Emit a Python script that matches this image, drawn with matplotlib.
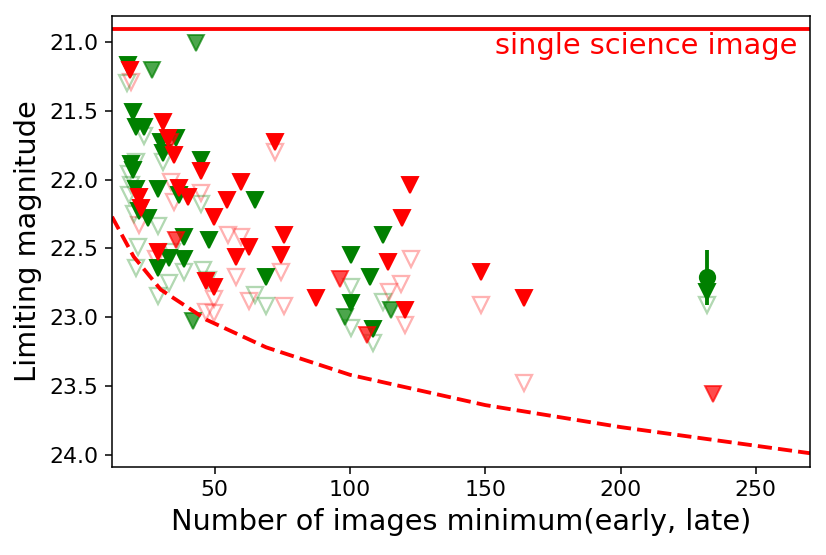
import matplotlib
matplotlib.use("Agg")
import matplotlib.pyplot as plt

# filled red triangles (solid)
red_x = [18.8, 30.9, 32.7, 34.9, 44.9, 36.8, 40.1, 22.1, 22.8, 49.6, 54.4, 59.6, 72.4,
         75.4, 62.5, 57.7, 74.6, 29.0, 46.7, 49.6, 122.1, 119.1, 114.0, 120.2, 87.5, 148.3, 164.2]
red_y = [21.20, 21.58, 21.70, 21.82, 21.94, 22.06, 22.13, 22.13, 22.21, 22.27, 22.15, 22.02, 21.73,
         22.40, 22.49, 22.56, 22.55, 22.53, 22.74, 22.78, 22.04, 22.28, 22.60, 22.95, 22.86, 22.67, 22.86]
# filled red triangles (faded)
red2_x = [33.5, 35.7, 96.3, 106.3, 234.0]
red2_y = [21.73, 22.44, 22.72, 23.13, 23.56]

# filled green triangles (solid)
green_x = [18.0, 19.9, 21.0, 23.9, 30.1, 35.7, 30.9, 44.9, 19.1, 19.9, 21.0, 29.0, 36.8, 22.1,
           25.4, 38.6, 47.8, 33.1, 38.6, 29.0, 64.7, 68.8, 100.4, 112.1, 107.4, 100.4, 108.5, 232.0]
green_y = [21.17, 21.51, 21.62, 21.62, 21.73, 21.70, 21.81, 21.86, 21.89, 21.93, 22.07, 22.07, 22.11, 22.23,
           22.28, 22.42, 22.44, 22.57, 22.58, 22.64, 22.15, 22.71, 22.55, 22.40, 22.71, 22.90, 23.09, 22.82]
# filled green triangles (faded)
green2_x = [43.0, 26.8, 41.9, 98.2, 115.1]
green2_y = [21.01, 21.20, 23.03, 23.00, 22.95]

# open red triangles
pink_x = [19.1, 33.8, 34.9, 44.9, 22.1, 54.8, 59.6, 28.3, 57.7, 74.6, 62.5, 75.7, 49.6, 46.7, 49.6,
          72.4, 122.4, 118.8, 114.3, 120.2, 148.3, 164.2]
pink_y = [21.29, 22.02, 22.16, 22.10, 22.33, 22.40, 22.42, 22.58, 22.71, 22.67, 22.88, 22.92, 22.87, 22.96, 22.97,
          21.80, 22.58, 22.76, 22.82, 23.06, 22.91, 23.48]

# open green triangles
lgreen_x = [17.6, 23.9, 30.9, 21.0, 18.4, 19.1, 18.4, 44.9, 20.2, 29.0, 21.7, 21.0, 33.1, 29.0, 38.6,
            45.6, 47.4, 64.7, 68.8, 100.4, 112.1, 100.4, 108.5, 232.0, 34.2]
lgreen_y = [21.30, 21.68, 21.87, 21.87, 21.96, 22.04, 22.11, 22.18, 22.25, 22.34, 22.49, 22.64, 22.75, 22.85, 22.67,
            22.66, 22.73, 22.84, 22.92, 22.78, 22.89, 23.08, 23.19, 22.91, 22.53]

# detection with error bar
det_x = [232.0]
det_y = [22.71]
det_err = [0.2]

# limit curve
curve_x = [12, 20, 30, 47, 69, 100, 150, 200, 270]
curve_y = [22.27, 22.56, 22.80, 23.02, 23.22, 23.42, 23.64, 23.80, 23.99]

single_mag = 20.905

fig = plt.figure(figsize=(826 / 138, 555 / 138), dpi=138)
ax = fig.add_axes([0.1356, 0.1586, 0.845, 0.8126])

ms = 8.5
ax.plot(pink_x, pink_y, "v", ms=ms, mfc="none", mec="red", alpha=0.3, mew=1.2)
ax.plot(lgreen_x, lgreen_y, "v", ms=ms, mfc="none", mec="green", alpha=0.3, mew=1.2)
ax.plot(green2_x, green2_y, "v", ms=ms, color="green", alpha=0.7)
ax.plot(green_x, green_y, "v", ms=ms, color="green")
ax.plot(red2_x, red2_y, "v", ms=ms, color="red", alpha=0.7)
ax.plot(red_x, red_y, "v", ms=ms, color="red")
ax.errorbar(det_x, det_y, yerr=det_err, fmt="o", color="green", ms=8, elinewidth=2)

ax.plot(curve_x, curve_y, "--", color="red", lw=2)
ax.axhline(single_mag, color="red", lw=2)
ax.text(265.5, 21.03, "single science image", color="red", fontsize=15, ha="right", va="center")

ax.set_xlim(12, 270)
ax.set_ylim(24.09, 20.81)
ax.set_yticks([21.0, 21.5, 22.0, 22.5, 23.0, 23.5, 24.0])
ax.set_xticks([50, 100, 150, 200, 250])
ax.tick_params(labelsize=11.5)
ax.set_xlabel("Number of images minimum(early, late)", fontsize=15)
ax.set_ylabel("Limiting magnitude", fontsize=15)

fig.savefig("out.png", dpi=138)
